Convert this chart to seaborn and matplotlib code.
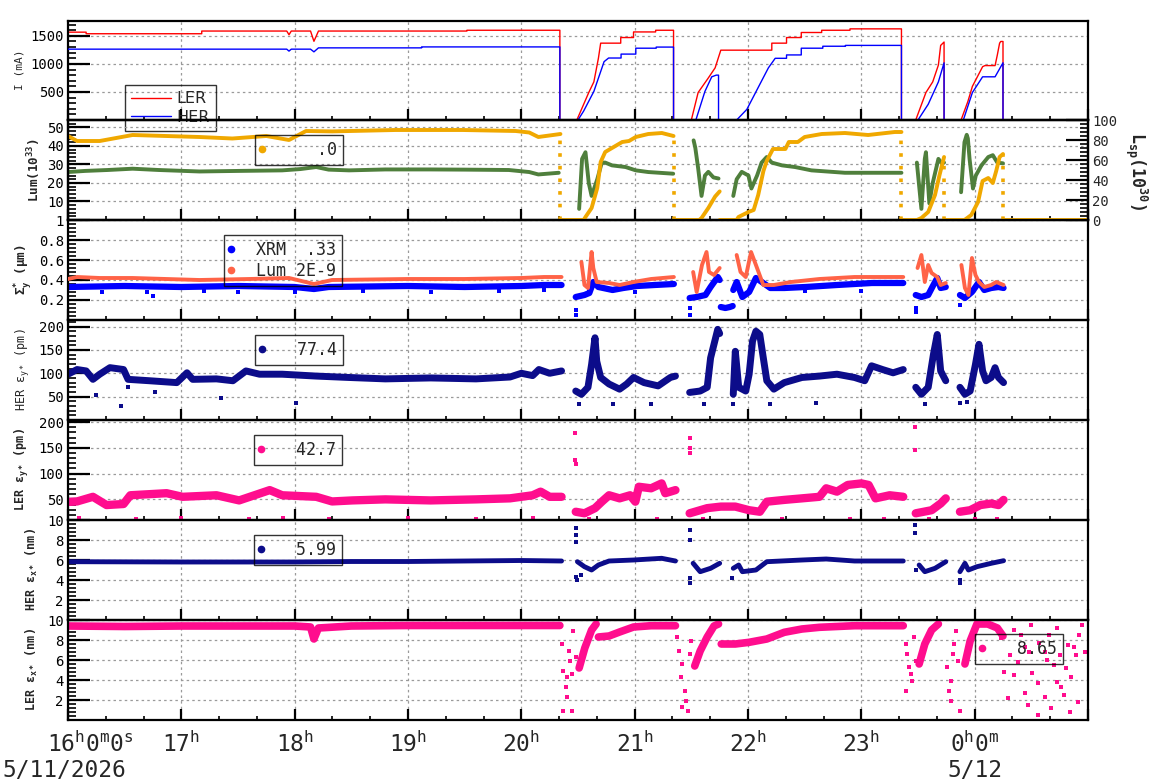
import matplotlib
matplotlib.use("Agg")
import numpy as np
import pandas as pd
import matplotlib.pyplot as plt
import seaborn as sns
from matplotlib.ticker import MultipleLocator, FixedLocator, FixedFormatter
from matplotlib.lines import Line2D
import matplotlib.transforms as mtrans

# ---------------- data (time in hours since 0:00 of 5/11) ----------------
LER_CURRENT = [(16.00, 1566), (16.16, 1566), (16.16, 1538), (17.18, 1538), (17.18, 1586), (17.93, 1586),
               (17.95, 1520), (17.97, 1586), (18.14, 1586), (18.17, 1403), (18.21, 1586), (19.52, 1586),
               (19.52, 1600), (20.34, 1600), (20.34, 0), (20.49, 0), (20.595, 490), (20.64, 680),
               (20.68, 1100), (20.70, 1370), (20.877, 1370), (20.877, 1470), (20.99, 1470), (20.99, 1570),
               (21.185, 1570), (21.185, 1600), (21.343, 1600), (21.343, 0), (21.50, 0), (21.56, 490),
               (21.65, 750), (21.71, 930), (21.76, 1245), (22.21, 1245), (22.21, 1370), (22.34, 1370),
               (22.34, 1470), (22.47, 1470), (22.47, 1560), (22.65, 1560), (22.65, 1600), (22.90, 1600),
               (22.90, 1625), (23.354, 1625), (23.354, 0), (23.48, 0), (23.57, 490), (23.63, 680),
               (23.68, 980), (23.70, 1330), (23.73, 1390), (23.73, 0), (23.88, 0), (23.94, 330),
               (23.98, 600), (24.07, 950), (24.09, 970), (24.18, 970), (24.20, 1160), (24.22, 1370),
               (24.23, 1400), (24.25, 1400), (24.25, 0), (25.0, 0)]
HER_CURRENT = [(16.00, 1263), (17.93, 1263), (17.95, 1228), (17.97, 1263), (18.14, 1263), (18.17, 1215),
               (18.21, 1286), (19.12, 1286), (19.12, 1303), (20.34, 1303), (20.34, 0), (20.50, 0),
               (20.55, 160), (20.64, 510), (20.73, 1040), (20.77, 1105), (20.88, 1105), (20.88, 1175),
               (21.01, 1175), (21.01, 1280), (21.19, 1280), (21.19, 1300), (21.343, 1300), (21.343, 0),
               (21.54, 0), (21.62, 510), (21.68, 770), (21.72, 800), (21.74, 800), (21.74, 0), (21.90, 0),
               (21.99, 190), (22.09, 580), (22.18, 930), (22.24, 1100), (22.34, 1100), (22.34, 1160),
               (22.47, 1160), (22.47, 1280), (22.66, 1280), (22.66, 1315), (22.86, 1315), (22.86, 1330),
               (23.354, 1330), (23.354, 0), (23.50, 0), (23.59, 280), (23.68, 680), (23.73, 1020),
               (23.73, 0), (23.90, 0), (23.98, 490), (24.07, 770), (24.18, 770), (24.25, 1020),
               (24.25, 0), (25.0, 0)]

LUM = [(16.00, 25.9), (16.15, 26.5), (16.35, 27.0), (16.57, 27.7), (16.8, 27.0), (17.16, 26.2), (17.5, 26.5),
       (17.89, 26.8), (18.05, 27.5), (18.19, 28.6), (18.3, 27.2), (18.48, 26.8), (18.8, 27.3), (19.19, 27.3),
       (19.5, 27.2), (19.89, 27.0), (20.07, 25.9), (20.15, 24.6), (20.33, 25.5), None,
       (20.51, 6), (20.536, 33), (20.566, 36.6), (20.595, 20), (20.62, 13), (20.67, 22), (20.71, 31),
       (20.74, 31), (20.80, 29.5), (20.92, 28.6), (21.01, 26.8), (21.12, 25.9), (21.34, 25.0), None,
       (21.52, 43), (21.535, 39), (21.56, 28), (21.59, 13), (21.62, 24), (21.65, 26), (21.695, 23),
       (21.74, 22.4), None,
       (21.87, 13), (21.90, 22), (21.945, 26), (22.004, 24), (22.03, 17), (22.08, 24), (22.12, 31),
       (22.165, 34), (22.21, 31), (22.30, 29.5), (22.415, 28.6), (22.56, 26.8), (22.855, 25.5),
       (23.15, 25.5), (23.354, 25.5), None,
       (23.49, 31), (23.53, 6), (23.56, 33), (23.57, 36.6), (23.60, 9), (23.63, 20), (23.68, 33),
       (23.71, 30.6), (23.73, 31), None,
       (23.88, 15), (23.91, 42), (23.93, 46), (23.94, 44), (23.955, 33), (23.985, 17), (24.01, 24),
       (24.06, 29.5), (24.12, 34), (24.16, 35), (24.20, 31), (24.25, 30.6)]
LSP = [(16.0, 84), (16.08, 79), (16.28, 79), (16.57, 85), (17.16, 83), (17.45, 81.5), (17.75, 84), (17.95, 80),
       (18.10, 89), (18.33, 88.6), (18.89, 90), (19.48, 90), (19.95, 89), (20.07, 87.5), (20.15, 83),
       (20.345, 86), None,
       (20.345, 0), (20.55, 0), (20.566, 3), (20.62, 12), (20.67, 32), (20.70, 58), (20.74, 68), (20.83, 74),
       (20.89, 78), (20.95, 79), (21.01, 83), (21.12, 86), (21.24, 87), (21.343, 84), None,
       (21.343, 0), (21.57, 0), (21.59, 2), (21.65, 12), (21.71, 23.5), (21.75, 28.6), None,
       (21.75, 0), (21.90, 0), (21.916, 3), (22.004, 8), (22.05, 10), (22.09, 25), (22.136, 49), (22.165, 59),
       (22.22, 71), (22.33, 71), (22.36, 78), (22.44, 78), (22.50, 83), (22.65, 86), (22.855, 87),
       (23.06, 85), (23.295, 88), (23.354, 88), None,
       (23.354, 0), (23.49, 0), (23.53, 2), (23.59, 8), (23.65, 25), (23.69, 45), (23.73, 63), None,
       (23.73, 0), (23.91, 0), (23.97, 5), (24.03, 18), (24.07, 39), (24.12, 42), (24.16, 37), (24.19, 49),
       (24.22, 63), (24.25, 66), None,
       (24.25, 0), (25.0, 0)]
LSP_DROPS = [(20.345, 86), (21.343, 84), (23.354, 88), (23.73, 63), (24.25, 66)]

XRM_SIZE = [(16.0, 0.33), (16.5, 0.34), (17.0, 0.33), (17.5, 0.34), (18.0, 0.33), (18.17, 0.31), (18.3, 0.33),
            (19.0, 0.34), (19.5, 0.33), (20.0, 0.34), (20.2, 0.35), (20.355, 0.35), None,
            (20.48, 0.23), (20.557, 0.25), (20.60, 0.27), (20.635, 0.38), (20.68, 0.33), (20.805, 0.30),
            (20.90, 0.32), (21.02, 0.34), (21.176, 0.35), (21.346, 0.36), None,
            (21.485, 0.22), (21.547, 0.23), (21.625, 0.25), (21.67, 0.33), (21.733, 0.43), (21.75, 0.40), None,
            (21.76, 0.13), (21.80, 0.12), (21.84, 0.13), (21.865, 0.14), None,
            (21.87, 0.30), (21.90, 0.38), (21.95, 0.23), (22.01, 0.28), (22.07, 0.42), (22.135, 0.37),
            (22.197, 0.32), (22.32, 0.32), (22.507, 0.33), (22.785, 0.35), (23.094, 0.37), (23.37, 0.37), None,
            (23.48, 0.25), (23.53, 0.23), (23.59, 0.25), (23.636, 0.35), (23.67, 0.42), (23.70, 0.32),
            (23.745, 0.33), None,
            (23.87, 0.25), (23.914, 0.22), (23.976, 0.28), (24.038, 0.38), (24.085, 0.30), (24.146, 0.32),
            (24.21, 0.33), (24.255, 0.32)]
XRM_LOW = [(16.3, 0.28), (16.7, 0.28), (16.75, 0.24), (17.2, 0.29), (17.5, 0.28), (18.0, 0.28), (18.6, 0.29),
           (19.2, 0.28), (19.8, 0.29), (20.2, 0.30), (21.0, 0.28), (22.5, 0.29), (23.0, 0.29),
           (20.48, 0.05), (20.48, 0.10), (21.485, 0.05), (21.485, 0.12), (23.48, 0.08), (23.48, 0.12),
           (23.87, 0.15)]
LUM_SIZE = [(16.0, 0.41), (16.08, 0.43), (16.28, 0.42), (16.57, 0.42), (17.16, 0.40), (17.6, 0.41), (17.95, 0.42),
            (18.17, 0.36), (18.33, 0.40), (19.0, 0.41), (19.5, 0.41), (20.0, 0.42), (20.2, 0.43), (20.355, 0.43),
            None,
            (20.53, 0.58), (20.557, 0.35), (20.588, 0.32), (20.62, 0.68), (20.635, 0.52), (20.665, 0.38),
            (20.774, 0.37), (20.867, 0.35), (20.99, 0.38), (21.145, 0.41), (21.346, 0.43), None,
            (21.516, 0.48), (21.547, 0.28), (21.594, 0.55), (21.634, 0.68), (21.656, 0.48), (21.70, 0.45),
            (21.75, 0.52), None,
            (21.90, 0.65), (21.934, 0.48), (21.98, 0.43), (22.027, 0.68), (22.07, 0.55), (22.135, 0.35),
            (22.228, 0.35), (22.38, 0.38), (22.63, 0.41), (22.94, 0.43), (23.37, 0.43), None,
            (23.496, 0.52), (23.53, 0.65), (23.56, 0.38), (23.59, 0.55), (23.62, 0.47), (23.67, 0.43),
            (23.70, 0.35), (23.745, 0.37), None,
            (23.883, 0.55), (23.914, 0.32), (23.945, 0.25), (23.976, 0.62), (24.007, 0.45), (24.038, 0.38),
            (24.085, 0.33), (24.146, 0.35), (24.19, 0.38), (24.255, 0.35)]

HER_EY = [(16.0, 98), (16.08, 108), (16.16, 105), (16.22, 87), (16.28, 98), (16.37, 112), (16.49, 108),
          (16.53, 87), (16.72, 84), (16.96, 80), (17.05, 101), (17.10, 87), (17.31, 88), (17.455, 84),
          (17.57, 105), (17.69, 98), (17.89, 98), (18.19, 94), (18.48, 91), (18.8, 88), (19.2, 90), (19.6, 88),
          (19.9, 92), (20.0, 100), (20.1, 95), (20.155, 108), (20.25, 100), (20.355, 105), None,
          (20.48, 62), (20.53, 55), (20.588, 70), (20.62, 119), (20.65, 176), (20.665, 126), (20.70, 91),
          (20.774, 77), (20.867, 66), (20.93, 77), (20.99, 91), (21.083, 80), (21.207, 73), (21.315, 91),
          (21.36, 94), None,
          (21.485, 59), (21.578, 62), (21.64, 70), (21.67, 133), (21.70, 162), (21.733, 194), (21.75, 185), None,
          (21.87, 55), (21.888, 147), (21.918, 70), (21.98, 62), (22.01, 98), (22.04, 169), (22.07, 190),
          (22.104, 183), (22.135, 133), (22.166, 84), (22.228, 66), (22.32, 80), (22.476, 91), (22.63, 94),
          (22.785, 98), (22.94, 91), (23.03, 84), (23.09, 116), (23.187, 108), (23.28, 101), (23.37, 108), None,
          (23.48, 70), (23.53, 55), (23.59, 70), (23.636, 140), (23.67, 183), (23.70, 105), (23.745, 84), None,
          (23.87, 70), (23.914, 55), (23.96, 62), (24.007, 119), (24.038, 162), (24.07, 105), (24.10, 84),
          (24.146, 91), (24.18, 112), (24.21, 91), (24.255, 80)]
HER_EY_OUT = [(16.25, 53), (16.47, 30), (16.53, 70), (16.77, 59), (17.35, 48), (18.01, 36), (20.51, 34),
              (20.805, 34), (21.145, 34), (21.61, 34), (21.87, 34), (22.197, 34), (22.6, 36), (23.56, 34),
              (23.87, 36), (23.93, 38)]

LER_EY = [(16.0, 45), (16.08, 46), (16.22, 55), (16.34, 39), (16.49, 41), (16.55, 58), (16.87, 62), (17.01, 55),
          (17.31, 58), (17.51, 48), (17.78, 68), (17.89, 58), (18.19, 55), (18.33, 46), (18.51, 48), (18.8, 50),
          (19.2, 48), (19.6, 50), (19.9, 52), (20.1, 58), (20.17, 65), (20.25, 55), (20.355, 55), None,
          (20.48, 26), (20.557, 23), (20.65, 33), (20.71, 45.5), (20.774, 58), (20.867, 52), (20.96, 58),
          (21.006, 45.5), (21.037, 74.5), (21.145, 71.5), (21.238, 81), (21.27, 62), (21.36, 68), None,
          (21.485, 23), (21.64, 33), (21.76, 36), (21.888, 36), (22.01, 29), (22.104, 26), (22.166, 45.5),
          (22.32, 49), (22.476, 52), (22.63, 55), (22.69, 71.5), (22.785, 65), (22.88, 78), (23.0, 81),
          (23.064, 78), (23.125, 52), (23.25, 58), (23.37, 55), None,
          (23.48, 23), (23.62, 29), (23.70, 42), (23.745, 52), None,
          (23.87, 26), (23.96, 29), (24.05, 39), (24.146, 42), (24.21, 39), (24.255, 49)]
LER_EY_OUT = [(20.475, 178), (20.475, 126), (20.48, 118), (21.485, 170), (21.485, 150), (21.49, 140),
              (23.475, 190), (23.475, 145), (16.1, 13), (16.6, 12), (17.0, 14), (17.6, 12), (17.9, 13),
              (18.3, 12), (19.0, 13), (19.6, 12), (20.1, 13), (20.6, 12), (21.2, 12), (21.6, 12), (22.3, 12),
              (22.9, 12), (23.2, 12), (23.6, 12), (24.0, 12), (24.2, 12)]

HER_EX = [(16.0, 5.83), (17.0, 5.8), (18.0, 5.8), (18.5, 5.85), (19.0, 5.85), (19.5, 5.9), (20.0, 5.95),
          (20.355, 5.9), None,
          (20.495, 5.83), (20.557, 5.33), (20.62, 5.0), (20.68, 5.5), (20.774, 5.9), (20.99, 6.0),
          (21.238, 6.17), (21.36, 5.9), None,
          (21.516, 5.67), (21.578, 4.83), (21.67, 5.17), (21.75, 5.67), None,
          (21.87, 5.17), (21.918, 5.5), (21.95, 4.83), (22.07, 5.0), (22.166, 5.83), (22.476, 6.0),
          (22.69, 6.1), (22.94, 5.9), (23.37, 5.9), None,
          (23.51, 5.5), (23.56, 4.83), (23.65, 5.17), (23.745, 5.83), None,
          (23.87, 4.83), (23.914, 5.67), (23.945, 5.0), (24.02, 5.33), (24.146, 5.67), (24.255, 5.93)]
HER_EX_OUT = [(20.48, 9.2), (20.48, 8.5), (20.48, 7.8), (20.485, 4.3), (20.49, 4.0), (21.485, 9.0),
              (21.485, 8.0), (21.49, 3.67), (21.49, 4.2), (23.475, 9.5), (23.475, 8.7), (23.48, 5.0),
              (23.87, 3.67), (23.87, 4.0), (20.53, 4.5), (21.86, 4.2)]

LER_EX = [(16.0, 9.4), (16.5, 9.35), (17.0, 9.4), (17.5, 9.4), (18.0, 9.4), (18.14, 9.3), (18.17, 8.1),
          (18.21, 9.2), (18.5, 9.4), (19.0, 9.45), (19.5, 9.45), (20.0, 9.45), (20.34, 9.45), None,
          (20.51, 5.2), (20.56, 7.2), (20.62, 9.0), (20.66, 9.6), None,
          (20.68, 8.3), (20.774, 8.4), (20.867, 8.8), (20.99, 9.3), (21.145, 9.43), (21.36, 9.43), None,
          (21.53, 5.4), (21.578, 6.9), (21.64, 8.3), (21.70, 9.4), (21.74, 9.6), None,
          (21.764, 7.6), (21.888, 7.6), (22.01, 7.77), (22.166, 8.1), (22.32, 8.77), (22.476, 9.1),
          (22.63, 9.27), (22.94, 9.43), (23.37, 9.43), None,
          (23.51, 5.6), (23.56, 7.6), (23.62, 9.0), (23.68, 9.6), None,
          (23.914, 5.6), (23.96, 7.9), (24.02, 9.6), (24.115, 9.6), (24.20, 9.2), (24.25, 8.4)]
LER_EX_OUT = [(20.355, 7.6), (20.37, 4.9), (20.39, 3.3), (20.40, 2.3), (20.37, 0.9), (20.42, 6.9), (20.43, 5.9),
              (20.45, 4.6), (20.46, 8.9), (20.48, 6.3), (20.40, 4.3), (20.45, 0.9),
              (21.377, 8.3), (21.39, 6.9), (21.41, 4.3), (21.42, 5.6), (21.44, 2.9), (21.455, 1.9), (21.47, 0.9),
              (21.485, 6.6), (21.50, 7.9), (21.42, 1.3),
              (23.39, 7.6), (23.40, 6.6), (23.42, 5.3), (23.435, 4.6), (23.39, 2.9), (23.466, 8.3), (23.48, 5.9),
              (23.45, 3.9),
              (23.76, 5.3), (23.775, 2.9), (23.79, 1.9), (23.806, 6.6), (23.82, 7.6), (23.837, 8.9), (23.85, 5.9),
              (23.79, 3.9), (23.87, 0.9),
              (24.23, 8.2), (24.35, 4.5), (24.38, 5.8), (24.44, 7.3), (24.50, 9.5), (24.56, 3.7), (24.62, 6.8),
              (24.66, 8.5), (24.70, 5.5), (24.73, 9.2), (24.76, 3.3), (24.79, 2.5), (24.82, 7.5), (24.85, 4.3),
              (24.89, 6.5), (24.92, 8.5), (24.95, 9.5), (24.29, 2.2), (24.47, 1.5), (24.67, 1.2), (24.91, 1.8),
              (24.56, 0.5), (24.35, 9.0), (24.41, 8.5), (24.51, 4.7), (24.57, 7.7), (24.75, 6.5), (24.81, 5.2),
              (24.88, 7.3), (24.97, 6.8), (24.26, 4.8), (24.44, 2.7), (24.62, 2.3), (24.73, 3.8), (24.84, 0.8),
              (24.64, 6.0), (24.48, 6.8), (24.31, 6.5)]

XTICK_HOURS = [16, 17, 18, 19, 20, 21, 22, 23, 24]
XTICK_TEXT = [r"16$^{\mathrm{h}}$0$^{\mathrm{m}}$0$^{\mathrm{s}}$", r"17$^{\mathrm{h}}$", r"18$^{\mathrm{h}}$",
              r"19$^{\mathrm{h}}$", r"20$^{\mathrm{h}}$", r"21$^{\mathrm{h}}$", r"22$^{\mathrm{h}}$",
              r"23$^{\mathrm{h}}$", r"0$^{\mathrm{h}}$0$^{\mathrm{m}}$"]
DATE_TEXT = [(16, "5/11/2026"), (24, "5/12")]

LEGEND_VALUES = ["    .0", " XRM  .33", " Lum 2E-9", "  77.4", "  42.7", "  5.99", "  8.65"]

# ---------------- style ----------------
sns.set_theme(style="white")
plt.rcParams["font.family"] = ["DejaVu Sans Mono", "DejaVu Sans"]
plt.rcParams["mathtext.fontset"] = "custom"
plt.rcParams["mathtext.rm"] = "DejaVu Sans Mono"
plt.rcParams["mathtext.it"] = "DejaVu Sans Mono:italic"
plt.rcParams["mathtext.bf"] = "DejaVu Sans Mono:bold"
plt.rcParams["mathtext.default"] = "regular"

RED, BLUE, GOLD, GREEN = "#ff0000", "#0000ff", "#f0a800", "#4f7f3c"
TOMATO, NAVY, PINK = "#ff6347", "#0c0c8a", "#ff0d8e"

W, H = 1160, 782
fig = plt.figure(figsize=(W / 100, H / 100), dpi=100)
fig.patch.set_facecolor("white")
LEFT, RIGHT = 68, 1088
EDGES = [21, 120, 220, 320, 420, 520, 620, 720]
axes = []
for i in range(7):
    top, bot = EDGES[i], EDGES[i + 1]
    ax = fig.add_axes([LEFT / W, 1 - bot / H, (RIGHT - LEFT) / W, (bot - top) / H])
    ax.set_facecolor("none")
    axes.append(ax)


def frame(pairs):
    rows, seg = [], 0
    for p in pairs:
        if p is None:
            seg += 1
            continue
        rows.append((p[0], p[1], seg))
    return pd.DataFrame(rows, columns=["t", "v", "seg"])


def band(ax, pairs, color, lw, z=2):
    sns.lineplot(data=frame(pairs), x="t", y="v", units="seg", estimator=None, sort=False,
                 color=color, linewidth=lw, ax=ax, legend=False, zorder=z)
    ax.set_xlabel("")
    ax.set_ylabel("")


def dots(ax, pairs, color, s=7, z=2):
    df = pd.DataFrame(pairs, columns=["t", "v"])
    sns.scatterplot(data=df, x="t", y="v", color=color, s=s, linewidth=0, marker="s",
                    ax=ax, legend=False, zorder=z)
    ax.set_xlabel("")
    ax.set_ylabel("")


def style(ax, ylim, major, minor, labels=None):
    ax.set_xlim(16, 25)
    ax.set_ylim(*ylim)
    ax.yaxis.set_major_locator(FixedLocator(major))
    if labels is not None:
        ax.yaxis.set_major_formatter(FixedFormatter(labels))
    ax.yaxis.set_minor_locator(MultipleLocator(minor))
    ax.xaxis.set_major_locator(MultipleLocator(1))
    ax.xaxis.set_minor_locator(MultipleLocator(1 / 3))
    ax.tick_params(axis="x", which="both", direction="in", bottom=True, top=False, labelbottom=False,
                   color="black")
    ax.tick_params(axis="x", which="major", length=8, width=1.6)
    ax.tick_params(axis="x", which="minor", length=3, width=1.2)
    ax.tick_params(axis="y", which="both", direction="in", left=True, right=False, labelsize=10,
                   pad=3, color="black", labelcolor="black")
    ax.tick_params(axis="y", which="major", length=16, width=1.6)
    ax.tick_params(axis="y", which="minor", length=5.5, width=1.2)
    ax.grid(True, which="major", color="#9a9a9a", linestyle=(0, (2, 2.5)), linewidth=0.9)
    for s in ax.spines.values():
        s.set_visible(True)
        s.set_linewidth(1.6)
        s.set_color("black")


def legend(ax, handles, labels, px, py, family="DejaVu Sans Mono", size=12, **kw):
    opts = dict(borderpad=0.35, handlelength=0.15, handletextpad=0.83, labelspacing=0.2)
    opts.update(kw)
    leg = ax.legend(handles, labels, loc="upper left", bbox_to_anchor=(px / W, 1 - py / H),
                    bbox_transform=fig.transFigure, borderaxespad=0, frameon=True, fancybox=False,
                    shadow=False, prop={"family": family, "size": size}, **opts)
    fr = leg.get_frame()
    fr.set_edgecolor("black")
    fr.set_linewidth(1.0)
    fr.set_facecolor("none")
    leg.set_zorder(10)
    return leg


def dot_handle(c):
    return Line2D([], [], marker="o", ls="", color=c, markersize=4.5)


# panel 1: beam currents
a = axes[0]
band(a, LER_CURRENT, RED, 1.0)
band(a, HER_CURRENT, BLUE, 1.0, z=3)
style(a, (0, 1765), [500, 1000, 1500], 100)
legend(a, [Line2D([], [], color=RED, lw=1), Line2D([], [], color=BLUE, lw=1)], ["LER", "HER"], 125, 85,
       family="DejaVu Sans", size=11.5, borderpad=0.4, handlelength=2.5, handletextpad=0.3)

# panel 2: luminosity
a = axes[1]
band(a, LUM, GREEN, 2.8)
style(a, (0, 54), [10, 20, 30, 40, 50], 2)
tw = a.twinx()
band(tw, LSP, GOLD, 2.8)
for t, v in LSP_DROPS:
    tw.vlines(t, 0, v, colors=GOLD, linestyles=(0, (1, 2.5)), linewidth=2.6)
tw.set_ylim(0, 100)
tw.set_xlim(16, 25)
tw.yaxis.set_major_locator(MultipleLocator(20))
tw.yaxis.set_minor_locator(MultipleLocator(4))
tw.tick_params(axis="y", which="both", direction="in", right=True, left=False, labelright=True,
               labelleft=False, labelsize=10, pad=3, color="black")
tw.tick_params(axis="y", which="major", length=16, width=1.6)
tw.tick_params(axis="y", which="minor", length=5.5, width=1.2)
tw.tick_params(axis="x", which="both", bottom=False, top=False, labelbottom=False)
tw.grid(False)
for s in tw.spines.values():
    s.set_linewidth(1.6)
    s.set_color("black")
legend(tw, [dot_handle(GOLD)], [LEGEND_VALUES[0]], 255, 135)

# panel 3: vertical beam size
a = axes[2]
dots(a, XRM_LOW, BLUE, s=6)
band(a, XRM_SIZE, BLUE, 4.5)
band(a, LUM_SIZE, TOMATO, 2.8, z=3)
style(a, (0, 1.0), [0.2, 0.4, 0.6, 0.8, 1.0], 0.04, ["0.2", "0.4", "0.6", "0.8", "1"])
legend(a, [dot_handle(BLUE), dot_handle(TOMATO)], LEGEND_VALUES[1:3], 224, 235)

# panel 4: HER vertical emittance
a = axes[3]
dots(a, HER_EY_OUT, NAVY, s=6)
band(a, HER_EY, NAVY, 5.0)
style(a, (0, 214), [50, 100, 150, 200], 10)
legend(a, [dot_handle(NAVY)], [LEGEND_VALUES[3]], 255, 335)

# panel 5: LER vertical emittance
a = axes[4]
dots(a, LER_EY_OUT, PINK, s=6)
band(a, LER_EY, PINK, 6.0)
style(a, (10, 204), [10, 50, 100, 150, 200], 10)
legend(a, [dot_handle(PINK)], [LEGEND_VALUES[4]], 254, 435)

# panel 6: HER horizontal emittance
a = axes[5]
dots(a, HER_EX_OUT, NAVY, s=6)
band(a, HER_EX, NAVY, 3.5)
style(a, (0, 10), [2, 4, 6, 8], 0.4)
legend(a, [dot_handle(NAVY)], [LEGEND_VALUES[5]], 254, 535)

# panel 7: LER horizontal emittance
a = axes[6]
dots(a, LER_EX_OUT, PINK, s=5)
band(a, LER_EX, PINK, 5.5)
style(a, (0, 10), [2, 4, 6, 8, 10], 0.4)
legend(a, [dot_handle(PINK)], [LEGEND_VALUES[6]], 975, 634)

# y labels
YLABELS = [("I (mA)", "normal", 8, 20, 70),
           ("Lum(10$^{33}$)", "bold", 9, 34, 170),
           ("Σ$_{y}^{*}$ (µm)", "bold", 9, 23, 270),
           ("HER ε$_{y*}$ (pm)", "normal", 8.5, 23, 370),
           ("LER ε$_{y*}$ (pm)", "bold", 8.5, 22, 470),
           ("HER ε$_{x*}$ (nm)", "bold", 8.5, 32, 570),
           ("LER ε$_{x*}$ (nm)", "bold", 8.5, 32, 670)]
for txt, wt, sz, xc, yc in YLABELS:
    fig.text(xc / W, 1 - yc / H, txt, rotation=90, ha="center", va="center", fontsize=sz, fontweight=wt)
fig.text(1136 / W, 1 - 171 / H, "L$_{sp}$(10$^{30}$)", rotation=270, ha="center", va="center",
         fontsize=12, fontweight="bold")

# x labels
axb = axes[6]
tr = mtrans.blended_transform_factory(axb.transData, axb.transAxes)
for h, lab in zip(XTICK_HOURS, XTICK_TEXT):
    if h == 16:
        t2 = tr + mtrans.ScaledTranslation(-21 / 100, 0, fig.dpi_scale_trans)
        axb.text(h, -0.32, lab, transform=t2, ha="left", va="baseline", fontsize=16.5, clip_on=False)
    else:
        axb.text(h, -0.32, lab, transform=tr, ha="center", va="baseline", fontsize=16.5, clip_on=False)
for h, lab in DATE_TEXT:
    if h == 16:
        t2 = tr + mtrans.ScaledTranslation(-66 / 100, 0, fig.dpi_scale_trans)
        axb.text(h, -0.57, lab, transform=t2, ha="left", va="baseline", fontsize=16.5, clip_on=False)
    else:
        axb.text(h, -0.57, lab, transform=tr, ha="center", va="baseline", fontsize=16.5, clip_on=False)

fig.savefig("out.png", dpi=100, facecolor="white")
